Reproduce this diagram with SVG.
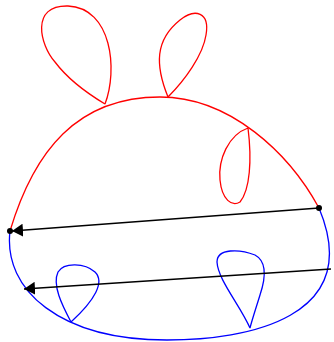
<svg xmlns="http://www.w3.org/2000/svg" width="334" height="342" viewBox="0 0 334 342">
<style>
.r{fill:none;stroke:#ff0000;stroke-width:1.3}
.b{fill:none;stroke:#0000ff;stroke-width:1.3}
.a{fill:none;stroke:#000;stroke-width:1.3}
.d{fill:#000}
</style>
<defs>
<marker id="ah" markerUnits="userSpaceOnUse" markerWidth="11" markerHeight="13" viewBox="0 0 11 13" refX="11" refY="6.5" orient="auto">
<path d="M0,0 L11,6.5 L0,13 z" fill="#000"/>
</marker>
</defs>
<g id="red-arc"><path class="r" d="M10,231 C34,151 77,97 160,97 C230,97 289,153 319,208"/></g>
<g id="blue-arc"><path class="b" d="M10,231 C3,290 60,340 167,340 C247,340 365,318 319,208"/></g>
<g id="red-loop-1"><path class="r" d="M105,104 C118,70 112,8 68,6 C30,5 40,45 55,62 C70,82 95,98 105,104"/></g>
<g id="red-loop-2"><path class="r" d="M168,97 C155,65 155,40 180,20 C195,8 210,12 206,35 C203,55 185,80 168,97"/></g>
<g id="red-loop-3"><path class="r" d="M248,128 C228,135 218,160 220,180 C222,200 232,207 240,202 C250,190 252,160 248,128"/></g>
<g id="blue-loop-1"><path class="b" d="M71,322 C62,305 52,285 58,272 C64,262 85,263 95,272 C105,282 95,300 71,322"/></g>
<g id="blue-loop-2"><path class="b" d="M250,328 C240,305 218,280 217,262 C217,248 240,249 255,255 C268,262 265,280 260,295 C256,308 252,320 250,328"/></g>
<g id="connectors">
<line class="a" x1="319" y1="208" x2="12" y2="231" marker-end="url(#ah)"/>
<line class="a" x1="331" y1="269" x2="24" y2="289" marker-end="url(#ah)"/>
</g>
<g id="dots">
<circle class="d" cx="10" cy="231" r="3"/>
<circle class="d" cx="319" cy="208" r="3"/>
</g>
</svg>
